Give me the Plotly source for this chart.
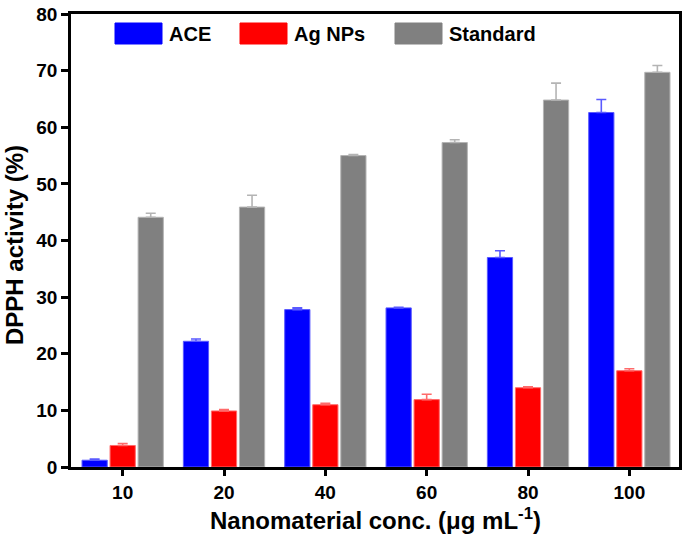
import plotly.graph_objects as go

# -------------------------------------
# Data
# -------------------------------------
concentrations = ["10", "20", "40", "60", "80", "100"]

ace_values = [1.2, 22.2, 27.8, 28.1, 37.0, 62.6]
ace_errors = [0.2, 0.4, 0.3, 0.1, 1.2, 2.3]

agnp_values = [3.8, 9.9, 11.0, 11.9, 14.0, 17.0]
agnp_errors = [0.35, 0.25, 0.25, 0.95, 0.15, 0.35]

standard_values = [44.1, 45.9, 55.0, 57.3, 64.8, 69.7]
standard_errors = [0.7, 2.1, 0.2, 0.5, 3.0, 1.2]

series = [
  ("ACE", ace_values, ace_errors, "#0000FF", "#5a5aff"),
  ("Ag NPs", agnp_values, agnp_errors, "#FF0000", "#ff6a6a"),
  ("Standard", standard_values, standard_errors, "#808080", "#b4b4b4"),
]

FONT = "Liberation Sans, Arial, sans-serif"

W, H = 685, 538
# plot area in pixels: x 71..679, y 14..467
L, T, R, B = 71, 14, 6, 71
PW, PH = W - L - R, H - T - B


def px_x(x):
  return (x - L) / PW


def px_y(y):
  return (H - B - y) / PH


# drop the default 8px page margin so the figure fills the window
NO_BODY_MARGIN = "document.body.style.margin = '0';"


def main():
  fig = go.Figure()

  for name, vals, errs, color, edge in series:
    fig.add_trace(go.Bar(
      x=concentrations,
      y=vals,
      name=name,
      marker=dict(color=color, line=dict(color=edge, width=1)),
      error_y=dict(
        type="data",
        array=errs,
        arrayminus=[0] * len(errs),
        symmetric=False,
        color=edge,
        thickness=1.6,
        width=5,
      ),
      showlegend=False,
    ))

  # -------------------------------------
  # Legend drawn by hand (large swatches)
  # -------------------------------------
  legend_items = [("ACE", "#0000FF", 115), ("Ag NPs", "#FF0000", 240), ("Standard", "#808080", 395)]
  shapes = []
  annotations = []
  for label, color, x0 in legend_items:
    shapes.append(dict(
      type="rect", xref="paper", yref="paper",
      x0=px_x(x0), x1=px_x(x0 + 47),
      y0=px_y(44), y1=px_y(23),
      fillcolor=color, line=dict(color=color, width=1),
    ))
    annotations.append(dict(
      xref="paper", yref="paper",
      x=px_x(x0 + 52), y=px_y(34),
      text=f"<b>{label}</b>", showarrow=False,
      xanchor="left", yanchor="middle",
      font=dict(family=FONT, size=20, color="black"),
    ))

  # axis titles
  annotations.append(dict(
    xref="paper", yref="paper", x=0.5, y=0,
    xanchor="center", yanchor="top", yshift=-35,
    text="<b>Nanomaterial conc. (μg mL<sup>-1</sup>)</b>", showarrow=False,
    font=dict(family=FONT, size=24, color="black"),
  ))
  annotations.append(dict(
    xref="paper", yref="paper", x=0, y=0.49,
    xanchor="center", yanchor="middle", xshift=-57, textangle=-90,
    text="<b>DPPH activity (%)</b>", showarrow=False,
    font=dict(family=FONT, size=24, color="black"),
  ))

  fig.update_layout(
    width=W,
    height=H,
    margin=dict(l=L, r=R, t=T, b=B),
    paper_bgcolor="white",
    plot_bgcolor="white",
    barmode="group",
    bargap=0.17,
    bargroupgap=0.1,
    shapes=shapes,
    annotations=annotations,
    font=dict(family=FONT, color="black"),
  )

  fig.update_xaxes(
    type="category",
    range=[-0.51, 5.49],
    automargin=False,
    showline=True, linecolor="black", linewidth=2.5, mirror=True,
    ticks="outside", ticklen=6, tickwidth=2.5, tickcolor="black",
    tickfont=dict(family=FONT, size=19, color="black"),
    tickprefix="<b>", ticksuffix="</b>",
    showgrid=False,
  )
  fig.update_yaxes(
    range=[0, 80],
    dtick=10,
    automargin=False,
    ticklabeloverflow="allow",
    showline=True, linecolor="black", linewidth=2.5, mirror=True,
    ticks="outside", ticklen=7, tickwidth=2.5, tickcolor="black",
    tickfont=dict(family=FONT, size=19, color="black"),
    tickprefix="<b>", ticksuffix="</b>",
    showgrid=False, zeroline=False,
  )

  fig.write_html(
    "out.html",
    config={"displayModeBar": False},
    post_script=NO_BODY_MARGIN,
  )


if __name__ == "__main__":
  main()
